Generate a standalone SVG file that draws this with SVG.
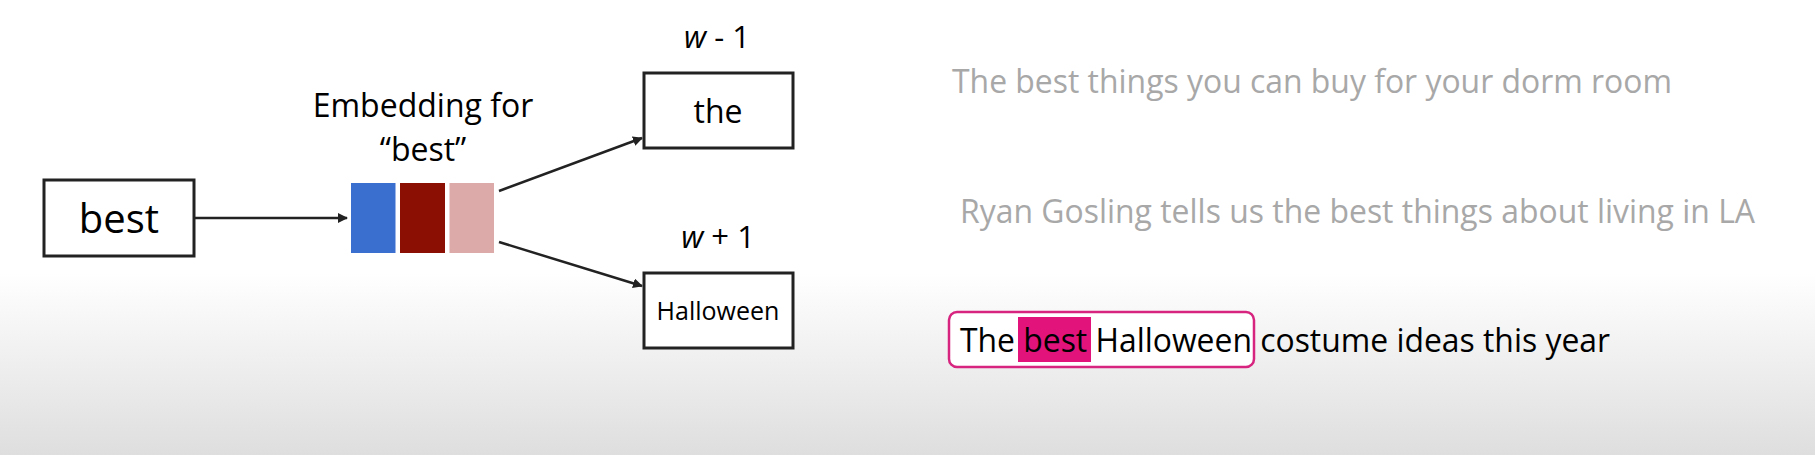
<svg xmlns="http://www.w3.org/2000/svg" width="1815" height="455" viewBox="0 0 1815 455">
  <defs>
    <linearGradient id="bg" x1="0" y1="0" x2="0" y2="455" gradientUnits="userSpaceOnUse">
      <stop offset="0" stop-color="#ffffff"/>
      <stop offset="0.6" stop-color="#ffffff"/>
      <stop offset="1" stop-color="#dedede"/>
    </linearGradient>
    <marker id="arr" viewBox="0 0 10 10" refX="9" refY="5" markerWidth="10" markerHeight="10" markerUnits="userSpaceOnUse" orient="auto">
      <path d="M0,0 L10,5 L0,10 z" fill="#222"/>
    </marker>
    <style>
      .box { fill: #ffffff; stroke: #222222; stroke-width: 3; }
      .t { font-family: "Open Sans", "Noto Sans", sans-serif; fill: #000; text-anchor: middle; }
      .conn { stroke: #222222; stroke-width: 2.5; fill: none; marker-end: url(#arr); }
      .grey { font-family: "Open Sans", "Noto Sans", sans-serif; fill: #a8a8a8; font-size: 32px; }
      .blk { font-family: "Open Sans", "Noto Sans", sans-serif; fill: #000; font-size: 32px; }
    </style>
  </defs>
  <rect x="0" y="0" width="1815" height="455" fill="url(#bg)"/>

  <g id="connectors">
    <line class="conn" x1="194" y1="218" x2="347" y2="218"/>
    <line class="conn" x1="499" y1="191" x2="642" y2="138"/>
    <line class="conn" x1="499" y1="242" x2="642" y2="286"/>
  </g>

  <g id="node-best">
    <rect class="box" x="44" y="180" width="150" height="76"/>
    <text class="t" x="119" y="233" font-size="40">best</text>
  </g>

  <g id="node-embedding">
    <text class="t" x="423" y="117" font-size="32">Embedding for</text>
    <text class="t" x="423" y="161" font-size="32">“best”</text>
    <rect x="351" y="183" width="44.5" height="70" fill="#3a6fcf"/>
    <rect x="400" y="183" width="45" height="70" fill="#8b1003"/>
    <rect x="449.5" y="183" width="44.5" height="70" fill="#dcaaa8"/>
  </g>

  <g id="node-the">
    <text class="t" x="717" y="48" font-size="31"><tspan font-style="italic">w</tspan> - 1</text>
    <rect class="box" x="644" y="73" width="149" height="75"/>
    <text class="t" x="718" y="123" font-size="32">the</text>
  </g>

  <g id="node-halloween">
    <text class="t" x="718" y="248" font-size="31"><tspan font-style="italic">w</tspan> + 1</text>
    <rect class="box" x="644" y="273" width="149" height="75"/>
    <text class="t" x="718" y="320" font-size="25">Halloween</text>
  </g>

  <g id="sentences">
    <text class="grey" x="952" y="93" textLength="720" lengthAdjust="spacingAndGlyphs">The best things you can buy for your dorm room</text>
    <text class="grey" x="960" y="223" textLength="795" lengthAdjust="spacingAndGlyphs">Ryan Gosling tells us the best things about living in LA</text>
    <rect x="949" y="312" width="305" height="55" rx="8" ry="8" fill="#ffffff" stroke="#d6247f" stroke-width="2.5"/>
    <rect x="1018" y="317" width="73" height="45" fill="#e2137b"/>
    <text class="blk" x="960" y="352" textLength="650" lengthAdjust="spacingAndGlyphs">The best Halloween costume ideas this year</text>
  </g>
</svg>
